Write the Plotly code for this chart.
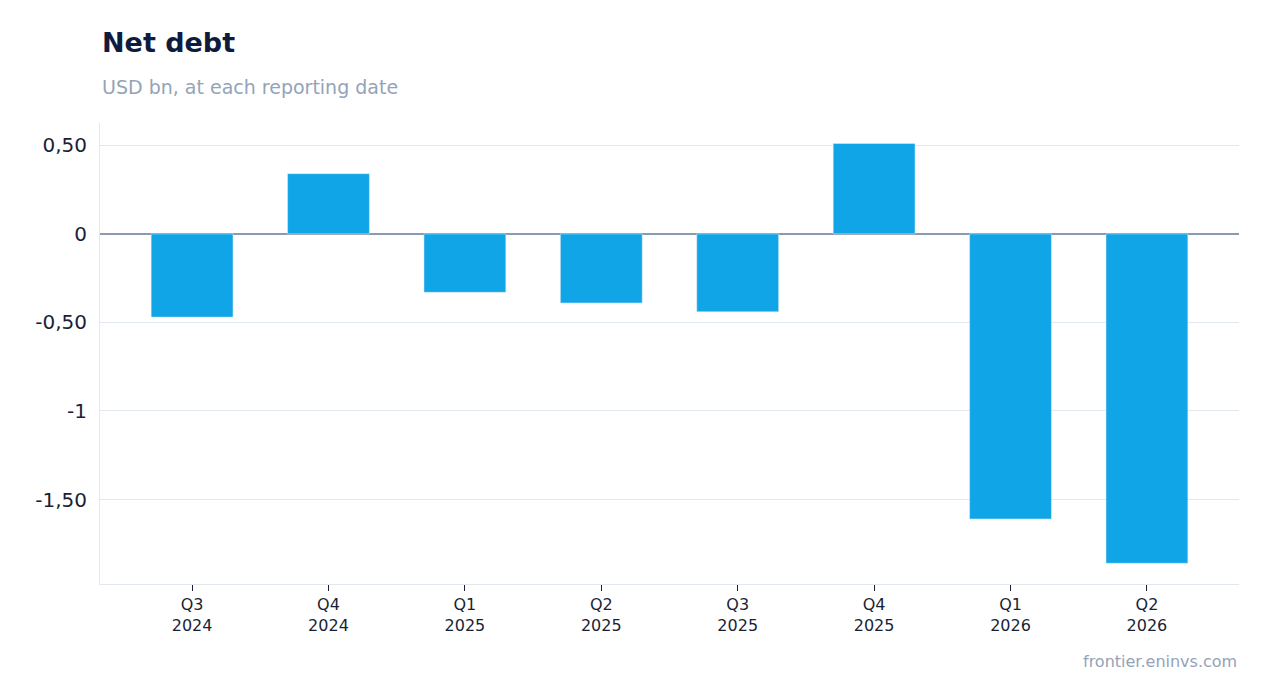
import plotly.graph_objects as go

categories = ["Q3<br>2024", "Q4<br>2024", "Q1<br>2025", "Q2<br>2025", "Q3<br>2025", "Q4<br>2025", "Q1<br>2026", "Q2<br>2026"]
values = [-0.47, 0.34, -0.33, -0.39, -0.44, 0.51, -1.61, -1.86]
tick_vals = [0.5, 0, -0.5, -1, -1.5]
tick_text = ["0,50", "0", "-0,50", "-1", "-1,50"]

fig = go.Figure(go.Bar(x=categories, y=values, marker_color="#10a5e7", width=0.6))
fig.update_layout(
    width=1254, height=685, plot_bgcolor="white", paper_bgcolor="white",
    font=dict(family="DejaVu Sans", color="#1a1f36"),
    margin=dict(l=92, r=23, t=115, b=109),
    showlegend=False,
)
fig.add_annotation(text="frontier.eninvs.com", xref="paper", yref="paper", x=1, y=-(652 - 576) / 453,
                   xanchor="right", yanchor="middle", showarrow=False, font=dict(size=16, color="#94a3b8"))
fig.add_annotation(text="<b>Net debt</b>", xref="paper", yref="paper", x=0, y=1.0 + (123 - 44) / 453,
                   xanchor="left", yanchor="middle", showarrow=False, font=dict(size=27, color="#0f1b3d"))
fig.add_annotation(text="USD bn, at each reporting date", xref="paper", yref="paper", x=0, y=1.0 + (123 - 88) / 453,
                   xanchor="left", yanchor="middle", showarrow=False, font=dict(size=19, color="#94a3b8"))
fig.update_xaxes(range=[-0.675, 7.675], showline=True, linecolor="#e2e8f0", ticks="outside", ticklen=6,
                 tickcolor="#1a1f36", tickfont=dict(size=16, color="#1a1f36"), showgrid=False)
fig.update_yaxes(range=[-1.977, 0.626], tickvals=tick_vals, ticktext=tick_text, showgrid=True,
                 gridcolor="#e2e8f0", zeroline=True, zerolinecolor="#8a9bb0", zerolinewidth=1.5,
                 showline=True, linecolor="#e2e8f0", tickfont=dict(size=20, color="#1a1f36"), ticks="outside",
                 ticklen=8, tickcolor="rgba(0,0,0,0)")
fig.write_html("out.html")
